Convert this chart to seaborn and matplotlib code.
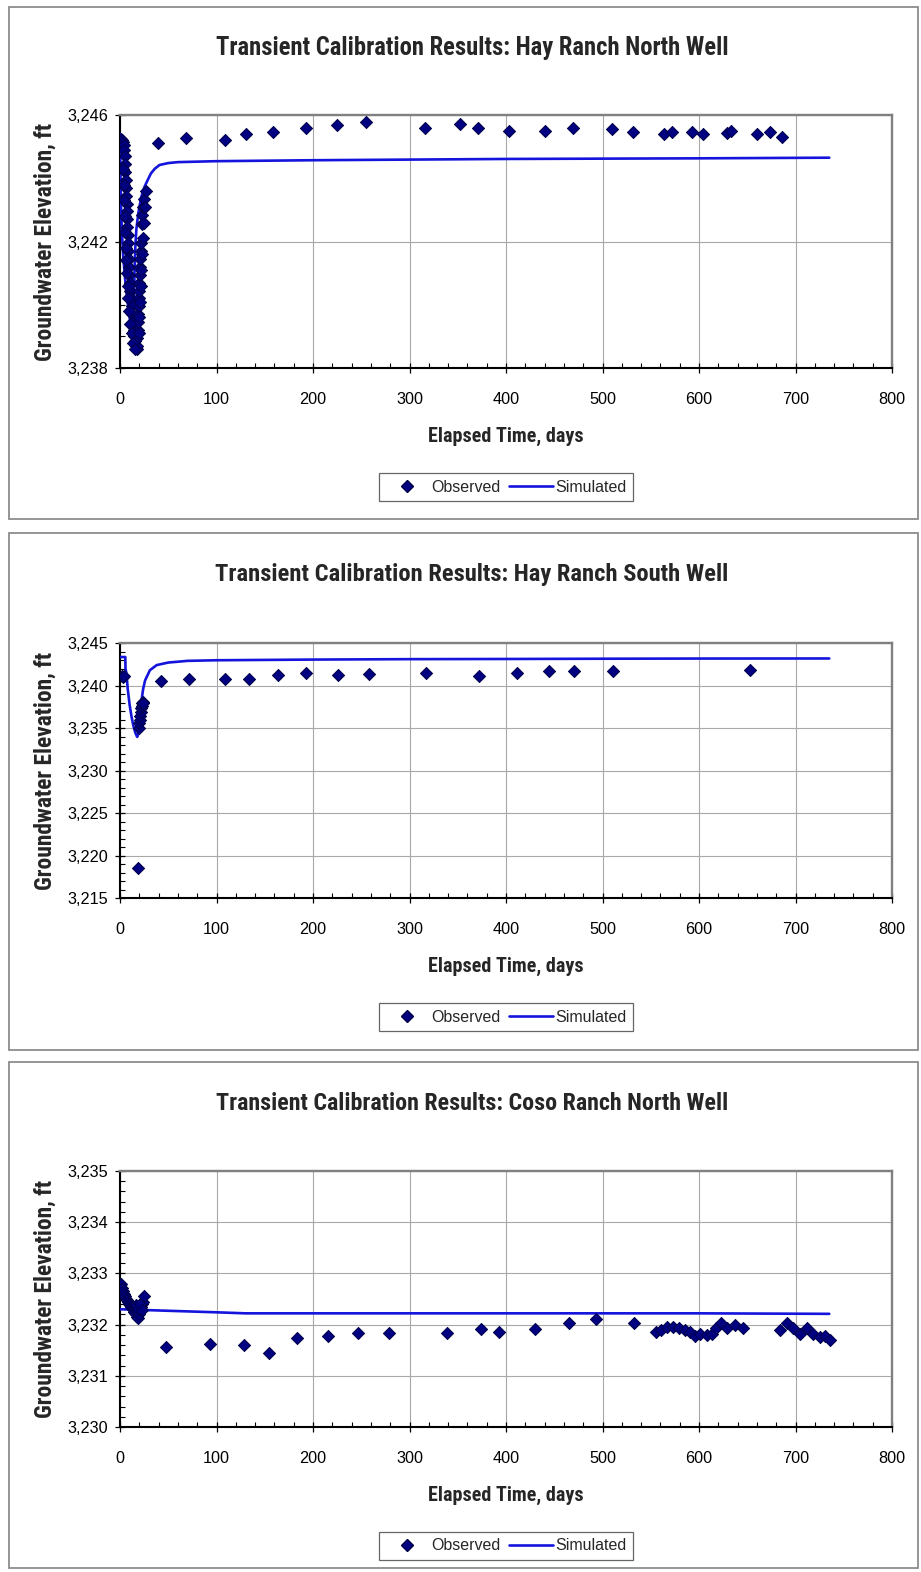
import matplotlib
matplotlib.use("Agg")
import matplotlib.pyplot as plt
import matplotlib.ticker as mticker
from matplotlib.lines import Line2D
from matplotlib.patches import Rectangle
from matplotlib import font_manager
import seaborn as sns
import pandas as pd

# ---------------- data ----------------
titles = ["Transient Calibration Results: Hay Ranch North Well",
          "Transient Calibration Results: Hay Ranch South Well",
          "Transient Calibration Results: Coso Ranch North Well"]
x_label = "Elapsed Time, days"
y_label = "Groundwater Elevation, ft"
legend_labels = ["Observed", "Simulated"]

# Hay Ranch North - observed
hrn_obs_day = [1.0, 2.0, 3.0, 4.0, 4.5, 5.0, 5.3, 5.6, 5.9, 6.2, 6.5, 6.8, 7.1, 7.4, 7.7, 8.0,
               8.3, 8.6, 9.0, 9.4, 9.8, 10.3, 10.8, 11.4, 12.0, 12.7, 13.4, 14.2, 15.0, 15.8,
               16.6, 17.3, 17.8, 18.1, 18.4, 18.7, 19.0, 19.3, 19.6, 19.9, 20.2, 20.5, 20.8,
               21.1, 21.5, 21.9, 22.4, 23.2, 24.2, 25.3, 26.5,
               3.5, 4.0, 4.5, 5.0, 5.5, 6.0, 6.5, 7.0, 7.8, 8.6, 9.6, 10.8, 12.2, 13.8, 15.6,
               19.5, 20.0, 20.6, 21.3, 22.0, 22.8, 23.8, 25.0, 26.2,
               39.7, 68.4, 108.8, 130.2, 158.9, 192.4, 225.2, 254.6, 316.0, 352.0, 370.6,
               403.5, 440.4, 469.1, 509.5, 531.3, 563.7, 571.7, 593.0, 604.5, 629.3, 633.2,
               660.4, 673.6, 686.3]
hrn_obs_elev = [3245.25, 3245.2, 3245.15, 3245.05, 3244.9, 3244.7, 3244.45, 3244.2, 3243.95,
                3243.7, 3243.45, 3243.2, 3242.95, 3242.7, 3242.45, 3242.2, 3241.95, 3241.7,
                3241.45, 3241.2, 3240.95, 3240.7, 3240.45, 3240.2, 3239.95, 3239.7, 3239.45,
                3239.2, 3239.0, 3238.85, 3238.7, 3238.6, 3238.7, 3238.95, 3239.2, 3239.45,
                3239.7, 3239.95, 3240.2, 3240.45, 3240.7, 3240.95, 3241.2, 3241.45, 3241.7,
                3241.95, 3242.55, 3242.85, 3243.1, 3243.35, 3243.6,
                3244.3, 3243.8, 3243.3, 3242.8, 3242.3, 3241.8, 3241.4, 3241.0, 3240.6,
                3240.2, 3239.8, 3239.4, 3239.1, 3238.8, 3238.6,
                3239.1, 3239.6, 3240.1, 3240.6, 3241.1, 3241.6, 3242.1, 3242.6, 3243.1,
                3245.10, 3245.26, 3245.21, 3245.40, 3245.47, 3245.58, 3245.68, 3245.77,
                3245.58, 3245.70, 3245.58, 3245.50, 3245.50, 3245.60, 3245.56, 3245.47,
                3245.39, 3245.45, 3245.45, 3245.39, 3245.42, 3245.50, 3245.39, 3245.45,
                3245.29]
# Hay Ranch North - simulated
hrn_sim_day = [0, 0.5, 1, 2, 3, 5, 7, 9, 11, 13, 14, 14.5, 15, 16, 17, 19, 22, 25, 28, 32,
               36, 41, 50, 60, 100, 200, 300, 400, 500, 600, 735]
hrn_sim_elev = [3245.4, 3244.0, 3243.2, 3242.3, 3241.7, 3240.9, 3240.3, 3239.8, 3239.4,
                3239.0, 3238.8, 3240.0, 3241.0, 3241.9, 3242.4, 3242.9, 3243.4, 3243.7,
                3243.9, 3244.15, 3244.3, 3244.42, 3244.48, 3244.51, 3244.54, 3244.57,
                3244.59, 3244.61, 3244.62, 3244.63, 3244.65]

# Hay Ranch South - observed
hrs_obs_day = [1.8, 3.2, 4.5, 19.0, 19.5, 20.0, 20.3, 20.8, 21.3, 21.8, 22.3, 22.8, 23.5,
               24.0, 42.5, 71.8, 108.8, 134.0, 164.0, 192.7, 225.6, 258.0, 316.8, 372.0,
               411.7, 444.9, 470.5, 510.6, 653.0]
hrs_obs_elev = [3241.1, 3241.0, 3241.1, 3218.5, 3235.0, 3235.6, 3236.0, 3236.4, 3236.9,
                3237.3, 3237.6, 3237.9, 3238.1, 3238.0, 3240.54, 3240.74, 3240.74, 3240.82,
                3241.2, 3241.48, 3241.2, 3241.33, 3241.48, 3241.1, 3241.52, 3241.68,
                3241.71, 3241.71, 3241.8]
# Hay Ranch South - simulated
hrs_sim_day = [0, 5.5, 5.7, 6.7, 8, 10, 12, 14, 16, 17.8, 19, 20, 21, 22, 24, 26, 31, 38,
               50, 70, 100, 200, 300, 400, 500, 600, 735]
hrs_sim_elev = [3243.35, 3243.35, 3242.0, 3241.4, 3239.6, 3237.7, 3236.3, 3235.2, 3234.4,
                3233.95, 3234.3, 3235.3, 3236.8, 3238.0, 3239.6, 3240.6, 3241.8, 3242.4,
                3242.7, 3242.9, 3242.97, 3243.05, 3243.1, 3243.12, 3243.15, 3243.17,
                3243.18]

# Coso Ranch North - observed
crn_obs_day = [1, 2, 3, 4, 5, 6, 7, 8, 9, 10, 11, 12, 13, 14, 15, 16, 17, 18, 19, 20, 21,
               22, 23, 24, 25, 16.5, 18.5, 20.5, 22.5,
               47.3, 93.3, 128.5, 154.7, 183.7, 215.9, 247.0, 279.0, 339.2, 374.0, 393.0,
               430.0, 465.3, 493.5, 532.6,
               555.5, 561.0, 566.5, 573.4, 579.6, 585.5, 590.7, 596.0, 601.4, 608.3, 613.5,
               618.0, 622.8, 629.4, 637.3, 646.0,
               683.9, 690.8, 697.7, 704.7, 711.6, 718.5, 725.4, 730.6, 735.8]
crn_obs_elev = [3232.8, 3232.72, 3232.65, 3232.6, 3232.55, 3232.5, 3232.48, 3232.45, 3232.4,
                3232.38, 3232.35, 3232.32, 3232.3, 3232.28, 3232.25, 3232.22, 3232.2,
                3232.15, 3232.12, 3232.2, 3232.3, 3232.35, 3232.4, 3232.45, 3232.55,
                3232.38, 3232.3, 3232.4, 3232.28,
                3231.57, 3231.63, 3231.60, 3231.44, 3231.73, 3231.78, 3231.83, 3231.84,
                3231.84, 3231.91, 3231.86, 3231.91, 3232.03, 3232.10, 3232.03,
                3231.86, 3231.9, 3231.96, 3231.96, 3231.93, 3231.9, 3231.86, 3231.78,
                3231.82, 3231.8, 3231.82, 3231.93, 3232.03, 3231.93, 3232.0, 3231.93,
                3231.89, 3232.03, 3231.93, 3231.82, 3231.93, 3231.82, 3231.76, 3231.78,
                3231.70]
# Coso Ranch North - simulated
crn_sim_day = [0, 50, 100, 130, 300, 600, 735]
crn_sim_elev = [3232.3, 3232.27, 3232.24, 3232.22, 3232.22, 3232.22, 3232.21]

y_limits = [(3238, 3246), (3215, 3245), (3230, 3235)]
y_ticks = [[3238, 3242, 3246],
           [3215, 3220, 3225, 3230, 3235, 3240, 3245],
           [3230, 3231, 3232, 3233, 3234, 3235]]
y_minor = [1, 1, 0.2]
x_ticks = [0, 100, 200, 300, 400, 500, 600, 700, 800]

# ---------------- style ----------------
sns.set_theme(style="white")
plt.rcParams['font.family'] = ['Liberation Sans', 'DejaVu Sans']
available = {f.name for f in font_manager.fontManager.ttflist}
NARROW = [f for f in ['Liberation Sans Narrow', 'Arial Narrow', 'Roboto Condensed',
                      'Open Sans Condensed', 'Nimbus Sans Narrow', 'DejaVu Sans Condensed']
          if f in available] + ['Liberation Sans', 'DejaVu Sans']
NAVY = '#000080'
EDGE = '#00004a'
BLUE = '#1414DC'

W, H = 921, 1572
fig = plt.figure(figsize=(W / 100, H / 100), dpi=100)
fig.patch.set_facecolor('white')

axes_px = [(115, 368), (643, 898), (1171, 1427)]   # top, bottom in pixels
borders_px = [(7, 519), (533, 1050), (1062, 1568)]
title_y_px = [48, 575, 1104]
AX_L, AX_R = 120, 892

obs = [(hrn_obs_day, hrn_obs_elev), (hrs_obs_day, hrs_obs_elev), (crn_obs_day, crn_obs_elev)]
sim = [(hrn_sim_day, hrn_sim_elev), (hrs_sim_day, hrs_sim_elev), (crn_sim_day, crn_sim_elev)]

fit_items = []
for i in range(3):
    top, bot = axes_px[i]
    ax = fig.add_axes([AX_L / W, 1 - bot / H, (AX_R - AX_L) / W, (bot - top) / H])
    ax.set_facecolor('white')
    hpx = bot - top

    # panel border
    bt, bb = borders_px[i]
    fig.patches.append(Rectangle((9 / W, 1 - bb / H), (918 - 9) / W, (bb - bt) / H,
                                 transform=fig.transFigure, fill=False,
                                 edgecolor='#8c8c8c', lw=1.3, zorder=0))

    df_sim = pd.DataFrame({'day': sim[i][0], 'elev': sim[i][1]})
    df_obs = pd.DataFrame({'day': obs[i][0], 'elev': obs[i][1]})
    sns.lineplot(data=df_sim, x='day', y='elev', ax=ax, color=BLUE, lw=1.9,
                 estimator=None, sort=False, zorder=3)
    sns.scatterplot(data=df_obs, x='day', y='elev', ax=ax, marker='D', s=38,
                    color=NAVY, edgecolor=EDGE, linewidth=0.7, zorder=4)

    ax.set_xlim(x_ticks[0], x_ticks[-1])
    ax.set_ylim(*y_limits[i])
    ax.xaxis.set_major_locator(mticker.FixedLocator(x_ticks))
    ax.xaxis.set_minor_locator(mticker.MultipleLocator(20))
    ax.yaxis.set_major_locator(mticker.FixedLocator(y_ticks[i]))
    ax.yaxis.set_minor_locator(mticker.MultipleLocator(y_minor[i]))
    ax.yaxis.set_major_formatter(mticker.FuncFormatter(lambda v, p: f'{v:,.0f}'))
    ax.grid(True, which='major', color='#a8a8a8', lw=0.8)
    ax.set_axisbelow(True)
    for s in ['left', 'bottom']:
        ax.spines[s].set_color('black')
        ax.spines[s].set_linewidth(1.5)
    for s in ['top', 'right']:
        ax.spines[s].set_color('#808080')
        ax.spines[s].set_linewidth(1.7)
    ax.tick_params(axis='both', which='major', direction='inout', length=7.5, width=0.9,
                   color='black', labelsize=11.7, labelcolor='black')
    ax.tick_params(axis='both', which='minor', direction='in', length=3.5, width=0.8,
                   color='black')
    ax.tick_params(axis='x', which='major', pad=13.3, bottom=True)
    ax.tick_params(axis='y', which='major', pad=4.5, left=True)
    ax.tick_params(axis='x', which='minor', bottom=True)
    ax.tick_params(axis='y', which='minor', left=True)

    xl = ax.set_xlabel(x_label, fontsize=11, fontweight='bold', family=NARROW)
    ax.xaxis.set_label_coords(0.5, -59 / hpx)
    yl = ax.set_ylabel(y_label, fontsize=11, fontweight='bold', family=NARROW)
    ax.yaxis.set_label_coords((57 - AX_L) / (AX_R - AX_L), 0.5)
    t = ax.set_title(titles[i], fontsize=14, fontweight='bold', family=NARROW,
                     y=(bot - title_y_px[i]) / hpx, va='center', pad=0)
    t.set_x((472 - AX_L) / (AX_R - AX_L))
    fit_items += [(xl, 155, 'w'), (yl, 237, 'h'), (t, 515, 'w')]

    handles = [Line2D([], [], marker='D', ls='none', color=NAVY, markeredgecolor=EDGE,
                      markersize=6.3),
               Line2D([], [], color=BLUE, lw=1.9)]
    leg = ax.legend(handles, legend_labels, ncol=2, loc='center',
                    bbox_to_anchor=(0.5, -119 / hpx), frameon=True, fancybox=False,
                    fontsize=11.5, handlelength=2.7, handletextpad=0.15,
                    columnspacing=0.55, borderpad=0.4)
    leg.get_frame().set_edgecolor('#404040')
    leg.get_frame().set_linewidth(0.9)

# fit text sizes to measured extents
fig.canvas.draw()
r = fig.canvas.get_renderer()
for txt, target, dim in fit_items:
    bb = txt.get_window_extent(r)
    cur = bb.width if dim == 'w' else bb.height
    txt.set_fontsize(txt.get_fontsize() * target / cur)

fig.savefig('out.png', dpi=100, facecolor='white')
